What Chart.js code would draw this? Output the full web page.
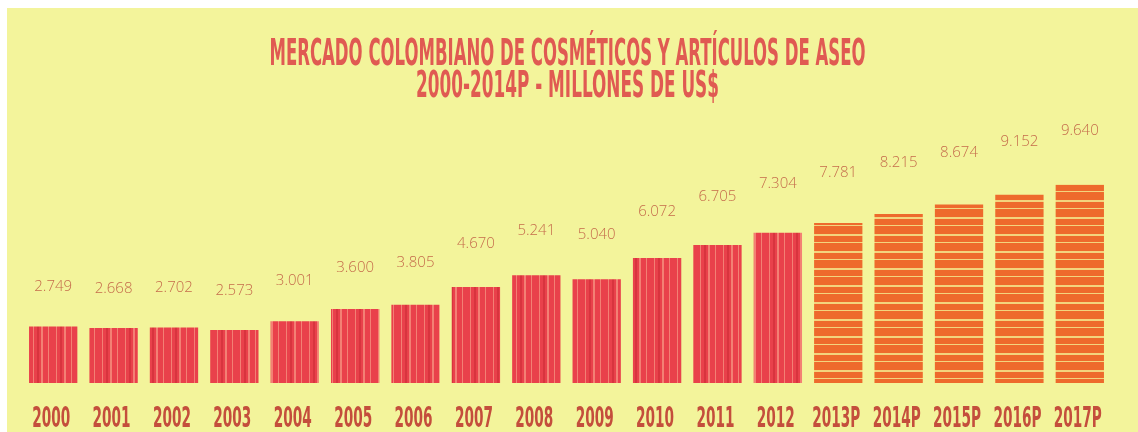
<!DOCTYPE html>
<html>
<head>
<meta charset="utf-8">
<script src="https://cdn.jsdelivr.net/npm/chart.js@4/dist/chart.umd.min.js"></script>
<style>
  body { margin: 0; background: #ffffff; }
  #wrap { position: absolute; left: 7px; top: 8px; width: 1131px; height: 424px; background: #f3f49b; }
</style>
</head>
<body>
<div id="wrap"><canvas id="myChart" width="1131" height="424"></canvas></div>
<script>
const categorias = ['2000', '2001', '2002', '2003', '2004', '2005', '2006', '2007', '2008', '2009',
  '2010', '2011', '2012', '2013P', '2014P', '2015P', '2016P', '2017P'];
const valores = [2749, 2668, 2702, 2573, 3001, 3600, 3805, 4670, 5241, 5040,
  6072, 6705, 7304, 7781, 8215, 8674, 9152, 9640];
const proyectado = [false, false, false, false, false, false, false, false, false, false,
  false, false, false, true, true, true, true, true];
const titulo = ['MERCADO COLOMBIANO DE COSMÉTICOS Y ARTÍCULOS DE ASEO', '2000-2014P - MILLONES DE US$'];

// texturas tipo trazo
function rayasVerticales() {
  const c = document.createElement('canvas');
  c.width = 23; c.height = 40;
  const g = c.getContext('2d');
  g.fillStyle = '#e9414b';
  g.fillRect(0, 0, 23, 40);
  g.fillStyle = 'rgba(246,150,130,0.75)';
  g.fillRect(3, 0, 1, 40);
  g.fillRect(11, 0, 2, 40);
  g.fillRect(18, 0, 1, 40);
  g.fillStyle = 'rgba(200,40,50,0.5)';
  g.fillRect(7, 0, 2, 40);
  return g.createPattern(c, 'repeat');
}
function rayasHorizontales() {
  const c = document.createElement('canvas');
  c.width = 40; c.height = 17;
  const g = c.getContext('2d');
  g.fillStyle = '#ee6a2c';
  g.fillRect(0, 0, 40, 17);
  g.fillStyle = 'rgba(243,230,140,0.85)';
  g.fillRect(0, 5, 40, 2);
  g.fillRect(0, 13, 40, 1);
  return g.createPattern(c, 'repeat');
}
const rojo = rayasVerticales();
const naranja = rayasHorizontales();

function fmt(v) {
  return v.toString().replace(/\B(?=(\d{3})+(?!\d))/g, '.');
}

const condensada = '"Liberation Sans Narrow", "DejaVu Sans Condensed", sans-serif';

const extras = {
  id: 'extras',
  afterDatasetsDraw(chart) {
    const ctx = chart.ctx;
    const meta = chart.getDatasetMeta(0);
    const xs = chart.scales.x;
    ctx.save();
    // valores sobre las barras
    ctx.fillStyle = '#c56c4c';
    ctx.font = '300 15px "Open Sans"';
    ctx.textAlign = 'center';
    ctx.textBaseline = 'middle';
    meta.data.forEach((bar, i) => {
      const h = bar.base - bar.y;
      ctx.fillText(fmt(valores[i]), bar.x, bar.y - 34 - 0.1 * h);
    });
    // etiquetas del eje x, condensadas
    ctx.fillStyle = '#c44e3c';
    ctx.textBaseline = 'alphabetic';
    ctx.font = 'bold 29px ' + condensada;
    const sxl = 38 / ctx.measureText('2000').width;
    categorias.forEach((c, i) => {
      ctx.save();
      ctx.translate(xs.getPixelForValue(i) - 2, chart.chartArea.bottom + 44);
      ctx.scale(sxl, 1);
      ctx.fillText(c, 0, 0);
      ctx.restore();
    });
    // titulo condensado
    ctx.fillStyle = '#e05a52';
    const anchos = [596, 303];
    const bases = [57, 89];
    titulo.forEach((t, i) => {
      ctx.save();
      ctx.font = 'bold 38px ' + condensada;
      const w = ctx.measureText(t).width;
      ctx.translate(chart.width / 2 - 5, bases[i]);
      ctx.scale(anchos[i] / w, 1);
      ctx.fillText(t, 0, 0);
      ctx.restore();
    });
    ctx.restore();
  }
};

const ctx = document.getElementById('myChart').getContext('2d');
const myChart = new Chart(ctx, {
  type: 'bar',
  data: {
    labels: categorias,
    datasets: [{
      data: valores,
      backgroundColor: proyectado.map(p => p ? naranja : rojo),
      borderWidth: 0,
      barPercentage: 0.8,
      categoryPercentage: 1
    }]
  },
  options: {
    responsive: false,
    animation: false,
    layout: { padding: { top: 126, left: 16, right: 28, bottom: 41 } },
    plugins: { legend: { display: false }, tooltip: { enabled: false } },
    scales: {
      x: {
        grid: { display: false },
        border: { display: false },
        ticks: { display: false }
      },
      y: {
        display: false,
        beginAtZero: true,
        max: 12100
      }
    }
  },
  plugins: [extras]
});
</script>
</body>
</html>
